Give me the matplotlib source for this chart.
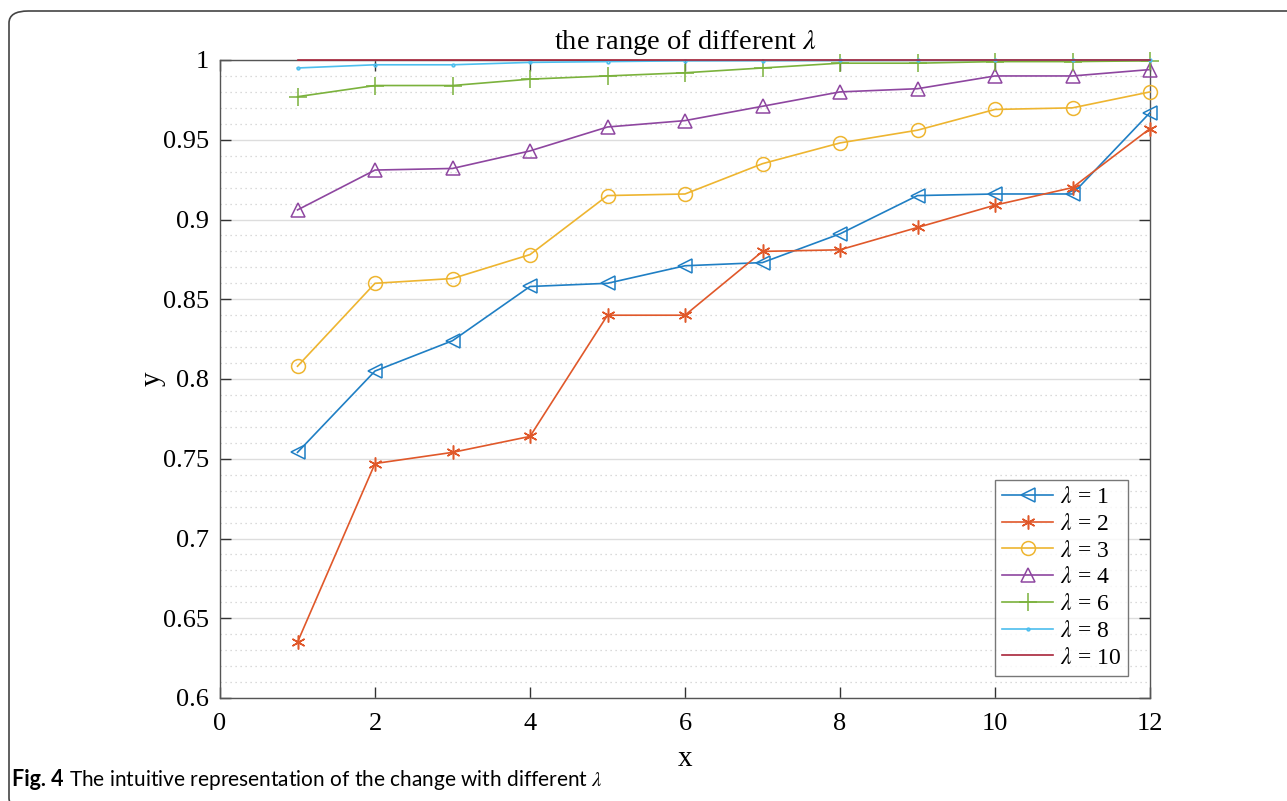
import matplotlib
matplotlib.use("Agg")
import matplotlib.pyplot as plt
from matplotlib.patches import FancyBboxPatch
from matplotlib.ticker import MultipleLocator

plt.rcParams['font.family'] = ['Liberation Serif', 'DejaVu Serif']
plt.rcParams['mathtext.fontset'] = 'stix'

x = list(range(1, 13))
lam1 = [0.754, 0.805, 0.824, 0.858, 0.860, 0.871, 0.873, 0.891, 0.915, 0.916, 0.916, 0.967]
lam2 = [0.635, 0.747, 0.754, 0.764, 0.840, 0.840, 0.880, 0.881, 0.895, 0.909, 0.920, 0.957]
lam3 = [0.808, 0.860, 0.863, 0.878, 0.915, 0.916, 0.935, 0.948, 0.956, 0.969, 0.970, 0.980]
lam4 = [0.906, 0.931, 0.932, 0.943, 0.958, 0.962, 0.971, 0.980, 0.982, 0.990, 0.990, 0.994]
lam6 = [0.977, 0.984, 0.984, 0.988, 0.990, 0.992, 0.995, 0.998, 0.998, 0.999, 0.999, 0.9995]
lam8 = [0.995, 0.997, 0.997, 0.9985, 0.999, 0.9995, 0.9996, 0.9997, 0.9998, 0.9999, 0.9999, 1.0]
lam10 = [1.0] * 12

labels = [r'$\lambda$ = 1', r'$\lambda$ = 2', r'$\lambda$ = 3', r'$\lambda$ = 4',
          r'$\lambda$ = 6', r'$\lambda$ = 8', r'$\lambda$ = 10']
series = [lam1, lam2, lam3, lam4, lam6, lam8, lam10]
colors = ['#1f7fc4', '#e0582a', '#eeb530', '#8e46a0', '#7bb23c', '#4dbeee', '#a8243a']
markers = ['<', (6, 2, 0), 'o', '^', '+', '.', None]
msizes = [10, 10, 10, 10, 13, 4, 0]

fig = plt.figure(figsize=(12.87, 8.01), dpi=100)
W, H = 1287, 801

# rounded frame (right and bottom edges run off the picture)
frame = FancyBboxPatch((9 / W, -9 / H), 1.2, (801 + 9 - 11) / H,
                       boxstyle="round,pad=0,rounding_size=0.015",
                       transform=fig.transFigure, fill=False,
                       edgecolor='#444444', linewidth=1.2, clip_on=False)
fig.patches.append(frame)

ax = fig.add_axes([220 / W, (801 - 698) / H, 930 / W, 638 / H])
for s, lab, c, m, ms in zip(series, labels, colors, markers, msizes):
    ax.plot(x, s, color=c, marker=m, markersize=ms, markerfacecolor='none',
            markeredgecolor=c, markeredgewidth=1.1, linewidth=1.2, label=lab,
            clip_on=False, zorder=3)

ax.set_xlim(0, 12)
ax.set_ylim(0.6, 1.0)
ax.xaxis.set_major_locator(MultipleLocator(2))
ax.yaxis.set_minor_locator(MultipleLocator(0.01))
ax.set_yticks([0.6, 0.65, 0.7, 0.75, 0.8, 0.85, 0.9, 0.95, 1.0])
ax.set_yticklabels(['0.6', '0.65', '0.7', '0.75', '0.8', '0.85', '0.9', '0.95', '1'])
ax.grid(axis='y', which='major', color='#dddddd', linewidth=1.0, linestyle='-')
ax.grid(axis='y', which='minor', color='#cfcfcf', linewidth=0.9, linestyle=(0, (1, 3)))
ax.set_axisbelow(True)
ax.tick_params(axis='both', which='major', direction='in', length=8, width=1.0,
               top=True, right=True, labelsize=19, color='#333333')
ax.tick_params(axis='x', which='major', pad=11)
ax.tick_params(axis='y', which='major', pad=8)
ax.tick_params(axis='y', which='minor', left=False, right=False)
for sp in ax.spines.values():
    sp.set_color('#555555')
    sp.set_linewidth(1.0)

ax.set_xlabel('x', fontsize=21, labelpad=8)
ax.set_ylabel('y', fontsize=21, labelpad=-2)
ax.set_title(r'the range of different $\lambda$', fontsize=20.5, pad=8)

leg = ax.legend(loc='lower right', bbox_to_anchor=(0.9765, 0.035), fontsize=17,
                frameon=True, fancybox=False, edgecolor='#555555',
                handlelength=2.15, labelspacing=0.22, borderpad=0.3,
                handletextpad=0.3, borderaxespad=0)
leg.get_frame().set_linewidth(1.0)

cap_font = ['Lato', 'DejaVu Sans']
fig.text(12 / W, 1 - 780 / H, 'Fig. 4', fontsize=15.5, fontweight='bold',
         family=cap_font, va='center', ha='left')
fig.text(69 / W, 1 - 780 / H,
         r'The intuitive representation of the change with different $\lambda$',
         fontsize=15, family=cap_font, va='center', ha='left')

fig.savefig('out.png', dpi=100)
